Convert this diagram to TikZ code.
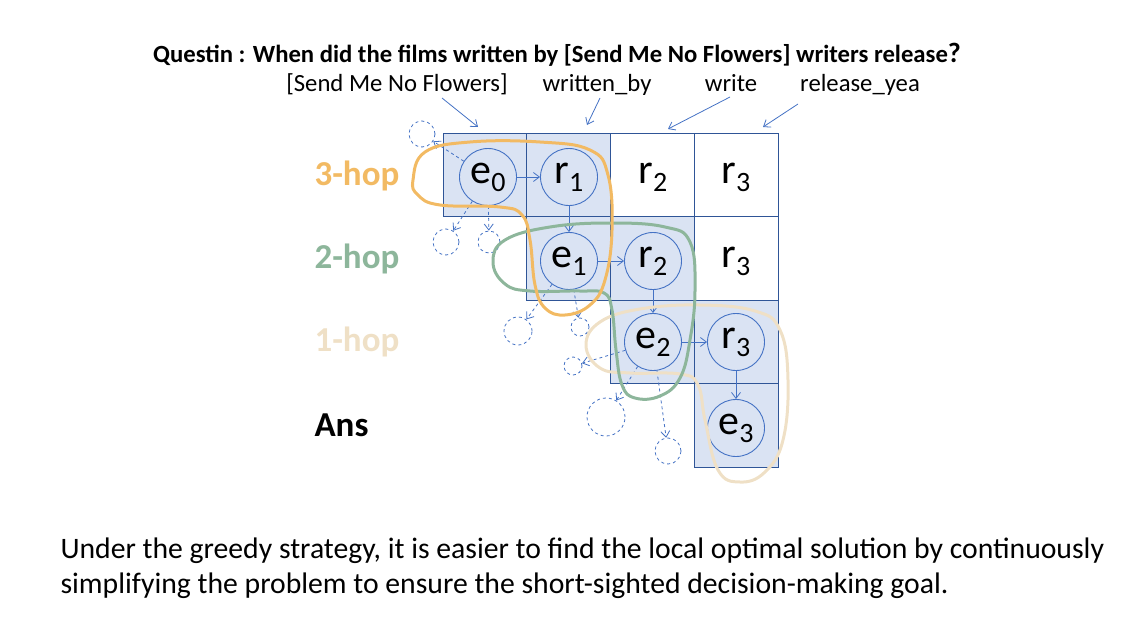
\documentclass[tikz,border=0pt]{standalone}
\usepackage{fontspec}
\setmainfont{Carlito}
\usetikzlibrary{arrows.meta}
\definecolor{gridblue}{HTML}{2F5597}
\definecolor{cellblue}{HTML}{DAE3F3}
\definecolor{nodeblue}{HTML}{4472C4}
\definecolor{hopthree}{HTML}{F2BA63}
\definecolor{hoptwo}{HTML}{8DB69B}
\definecolor{hopone}{HTML}{EFE0C6}
\def\sub#1{\raisebox{-8pt}{\fontsize{28}{28}\selectfont #1}}
\tikzset{
  cell/.style={draw=gridblue, line width=0.9pt},
  ent/.style={circle, draw=nodeblue, line width=0.9pt, minimum size=57pt, inner sep=0pt, font=\fontsize{42}{42}\selectfont},
  rel/.style={inner sep=0pt, font=\fontsize{42}{42}\selectfont},
  ghost/.style={circle, draw=nodeblue, dashed, line width=0.8pt, inner sep=0pt},
  link/.style={draw=nodeblue, line width=0.8pt, -{Straight Barb[length=6pt,width=9pt]}},
  guess/.style={link, dashed},
  hop/.style={font=\fontsize{35}{35}\selectfont\bfseries, anchor=west},
  lab/.style={font=\fontsize{24.7}{24.7}\selectfont, anchor=base},
  blob/.style={line width=3pt}
}

\begin{document}
\begin{tikzpicture}[x=1pt,y=-1pt]
		%%%%% START %%%%%
		\useasboundingbox (0,0) rectangle (1129,616);
		
		% question and labels
		\node[font=\fontsize{24.7}{24.7}\selectfont\bfseries, anchor=base] (title) at (557,62) {Questin : When did the films written by [Send Me No Flowers] writers release{\fontsize{28}{28}\selectfont ?}};
		\node[lab] (l1) at (397,91) {[Send Me No Flowers]};
		\node[lab] (l2) at (597,91) {written\_by};
		\node[lab] (l3) at (731,91) {write};
		\node[lab] (l4) at (860,91) {release\_yea};
		
		\coordinate (s1) at (442,98);  \coordinate (t1) at (478,127);
		\coordinate (s2) at (600,98);  \coordinate (t2) at (587,125);
		\coordinate (s3) at (730,97);  \coordinate (t3) at (668,129);
		\coordinate (s4) at (798,104); \coordinate (t4) at (763,127);
		\foreach \i in {1,2,3,4}
			\draw[link] (s\i) -- (t\i);
		
		% hop labels
		\node[hop, text=hopthree] (h3) at (311,176) {3-hop};
		\node[hop, text=hoptwo] (h2) at (311,259) {2-hop};
		\node[hop, text=hopone] (h1) at (311,342) {1-hop};
		\node[hop] (ans) at (311,425) {Ans};
		
		% grid
		\foreach \r/\c in {0/0,0/1,1/1,1/2,2/2,2/3,3/3}
			\fill[cellblue] ({443+83.75*\c},{133+83.5*\r}) rectangle ++(83.75,83.5);
		\foreach \r/\c in {0/0,0/1,0/2,0/3,1/1,1/2,1/3,2/2,2/3,3/3}
			\draw[cell] ({443+83.75*\c},{133+83.5*\r}) rectangle ++(83.75,83.5);
		
		% chain
		\node[ent] (e0) at (488,177) {e\sub{0}};
		\node[ent] (r1) at (569,177) {r\sub{1}};
		\node[rel] (c2) at (653,177) {r\sub{2}};
		\node[rel] (c3) at (736,177) {r\sub{3}};
		\node[ent] (e1) at (569,261) {e\sub{1}};
		\node[ent] (r2) at (653,261) {r\sub{2}};
		\node[rel] (d3) at (736,261) {r\sub{3}};
		\node[ent] (e2) at (653,342) {e\sub{2}};
		\node[ent] (r3) at (736,342) {r\sub{3}};
		\node[ent] (e3) at (736,428) {e\sub{3}};
		
		\draw[link] (e0) -- (r1);
		\draw[link] (r1) -- (e1);
		\draw[link] (e1) -- (r2);
		\draw[link] (r2) -- (e2);
		\draw[link] (e2) -- (r3);
		\draw[link] (r3) -- (e3);
		
		% other candidates
		\node[ghost, minimum size=26pt] (g1) at (422,134) {};
		\node[ghost, minimum size=26pt] (g2) at (446,242) {};
		\node[ghost, minimum size=22pt] (g3) at (489,242) {};
		\node[ghost, minimum size=28pt] (g4) at (518,331) {};
		\node[ghost, minimum size=18pt] (g5) at (580,327) {};
		\node[ghost, minimum size=18pt] (g6) at (573,366) {};
		\node[ghost, minimum size=38pt] (g7) at (606,417) {};
		\node[ghost, minimum size=26pt] (g8) at (668,451) {};
		
		\draw[guess] (e0) -- (g1);
		\draw[guess] (e0) -- (g2);
		\draw[guess] (e0) -- (g3);
		\draw[guess] (e1) -- (g4);
		\draw[guess] (e1) -- (g5);
		\draw[guess] (e2) -- (g6);
		\draw[guess] (e2) -- (g7);
		\draw[guess] (e2) -- (g8);
		
		% hop regions
		\draw[blob, hopone] plot[smooth cycle, tension=0.7] coordinates {(586,345) (600,322) (640,309) (700,305) (755,311) (780,330) (788,380) (783,440) (765,472) (740,482) (718,470) (705,420) (698,385) (680,374) (630,373) (600,368)};
		\draw[blob, hoptwo] plot[smooth cycle, tension=0.7] coordinates {(493,262) (505,240) (550,227) (610,223) (665,227) (690,242) (695,290) (690,340) (680,378) (660,396) (635,398) (622,385) (616,350) (612,310) (604,293) (580,291) (530,291) (505,284)};
		\draw[blob, hopthree] plot[smooth cycle, tension=0.7] coordinates {(413,180) (425,152) (470,142) (540,142) (590,150) (608,175) (612,230) (605,280) (590,305) (565,315) (545,308) (535,285) (530,240) (522,215) (500,207) (440,205) (418,195)};
		
		% remark
		\node[anchor=west, align=left, font=\fontsize{29.7}{35}\selectfont] (note) at (57,568) {Under the greedy strategy, it is easier to find the local optimal solution by continuously\\simplifying the problem to ensure the short-sighted decision-making goal.};
		
		%%%%% END %%%%%
	\end{tikzpicture}
\end{document}
